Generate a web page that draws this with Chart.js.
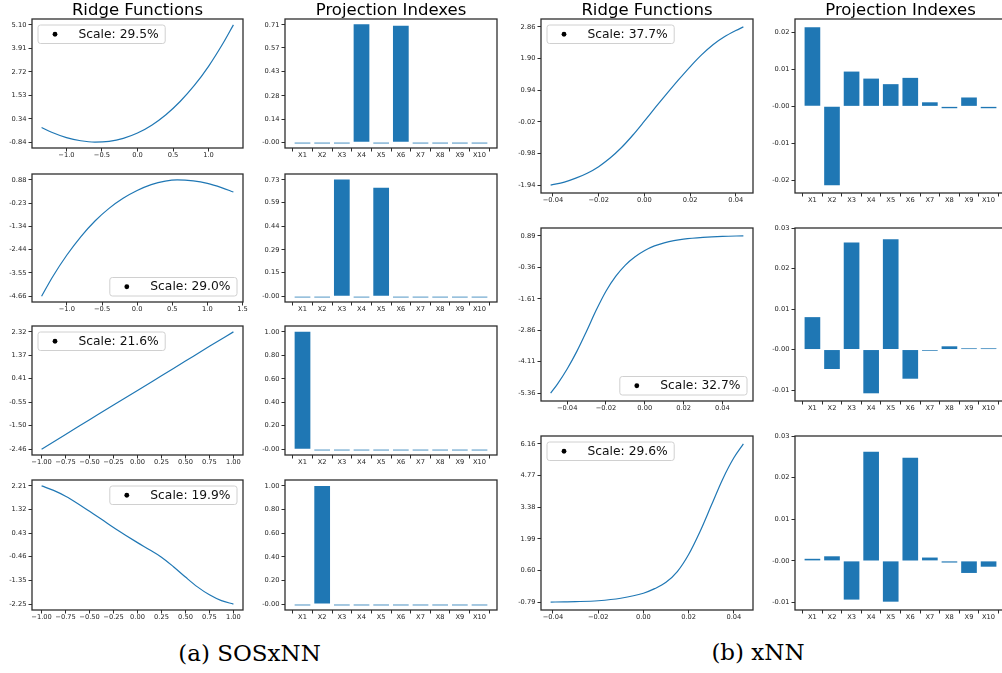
<!DOCTYPE html>
<html>
<head>
<meta charset="utf-8">
<script src="https://cdn.jsdelivr.net/npm/chart.js@4.4.1/dist/chart.umd.min.js"></script>
<style>
html, body { margin: 0; padding: 0; background: #fff; overflow: hidden; }
#fig { position: relative; width: 1002px; height: 673px; overflow: hidden; background: #fff; }
#fig canvas { position: absolute; }
.title { position: absolute; font-family: 'DejaVu Sans'; font-size: 16.5px; line-height: 16.5px; text-align: center; color: #000; white-space: nowrap; }
.cap { position: absolute; font-family: 'DejaVu Serif'; font-size: 23px; line-height: 23px; text-align: center; color: #000; white-space: nowrap; }
</style>
</head>
<body>
<div id="fig"></div>
<script>
// ---------- data ----------
const features = ['X1', 'X2', 'X3', 'X4', 'X5', 'X6', 'X7', 'X8', 'X9', 'X10'];

// (a) SOSxNN ridge functions
const sosX1 = [-1.35, -1.2, -1.0, -0.8, -0.6, -0.4, -0.2, 0, 0.2, 0.4, 0.6, 0.8, 1.0, 1.2, 1.35];
const sosY1 = [-0.10, -0.35, -0.61, -0.77, -0.84, -0.80, -0.65, -0.38, 0.02, 0.55, 1.22, 2.03, 3.00, 4.14, 5.10];
const sosX2 = [-1.36, -1.2, -1.0, -0.8, -0.6, -0.4, -0.2, 0, 0.2, 0.4, 0.57, 0.8, 1.0, 1.2, 1.37];
const sosY2 = [-4.66, -3.72, -2.70, -1.82, -1.08, -0.48, 0.00, 0.37, 0.65, 0.82, 0.88, 0.83, 0.71, 0.51, 0.30];
const sosX3 = [-1.0, -0.75, -0.5, -0.25, 0, 0.25, 0.5, 0.75, 1.0];
const sosY3 = [-2.46, -1.86, -1.26, -0.66, -0.07, 0.53, 1.13, 1.73, 2.32];
const sosX4 = [-1.0, -0.875, -0.75, -0.625, -0.5, -0.375, -0.25, -0.125, 0, 0.125, 0.25, 0.375, 0.5, 0.625, 0.75, 0.875, 1.0];
const sosY4 = [2.21, 2.04, 1.82, 1.55, 1.25, 0.95, 0.64, 0.35, 0.07, -0.20, -0.48, -0.84, -1.23, -1.60, -1.90, -2.12, -2.25];

// (b) xNN ridge functions
const xnnX1 = [-0.041, -0.035, -0.03, -0.025, -0.02, -0.015, -0.01, -0.005, 0, 0.005, 0.01, 0.015, 0.02, 0.025, 0.03, 0.035, 0.04, 0.0433];
const xnnY1 = [-1.94, -1.85, -1.73, -1.58, -1.38, -1.12, -0.80, -0.42, 0.00, 0.43, 0.85, 1.26, 1.65, 2.01, 2.32, 2.56, 2.75, 2.86];
const xnnX2 = [-0.0485, -0.045, -0.04, -0.035, -0.03, -0.025, -0.02, -0.015, -0.01, -0.005, 0, 0.005, 0.01, 0.015, 0.02, 0.03, 0.04, 0.0508];
const xnnY2 = [-5.36, -5.00, -4.40, -3.70, -2.90, -2.06, -1.31, -0.72, -0.27, 0.06, 0.31, 0.49, 0.61, 0.70, 0.76, 0.83, 0.87, 0.89];
const xnnX3 = [-0.041, -0.035, -0.03, -0.02, -0.01, 0, 0.005, 0.01, 0.015, 0.02, 0.025, 0.03, 0.035, 0.04, 0.0442];
const xnnY3 = [-0.79, -0.78, -0.77, -0.73, -0.62, -0.40, -0.20, 0.08, 0.55, 1.30, 2.30, 3.45, 4.60, 5.55, 6.16];

// projection indexes
const sosProj1 = [-0.008, -0.008, -0.008, 0.713, -0.008, 0.705, -0.008, -0.008, -0.008, -0.008];
const sosProj2 = [-0.008, -0.008, 0.732, -0.008, 0.680, -0.008, -0.008, -0.008, -0.008, -0.008];
const sosProj3 = [1.0, -0.011, -0.011, -0.011, -0.011, -0.011, -0.011, -0.011, -0.011, -0.011];
const sosProj4 = [-0.011, 1.0, -0.011, -0.011, -0.011, -0.011, -0.011, -0.011, -0.011, -0.011];
const xnnProj1 = [0.0214, -0.0213, 0.0094, 0.0075, 0.0060, 0.0077, 0.0011, -0.0005, 0.0024, -0.0005];
const xnnProj2 = [0.0080, -0.0048, 0.0264, -0.0108, 0.0272, -0.0072, -0.0003, 0.0008, 0.0003, 0.0003];
const xnnProj3 = [0.0005, 0.0011, -0.0093, 0.0262, -0.0098, 0.0248, 0.0008, -0.0004, -0.0029, -0.0014];

// legend texts
const sosScales = ['Scale: 29.5%', 'Scale: 29.0%', 'Scale: 21.6%', 'Scale: 19.9%'];
const xnnScales = ['Scale: 37.7%', 'Scale: 32.7%', 'Scale: 29.6%'];

// tick labels
const sosRidgeYTicks = [
  ['-0.84', '0.34', '1.53', '2.72', '3.91', '5.10'],
  ['-4.66', '-3.55', '-2.44', '-1.34', '-0.23', '0.88'],
  ['-2.46', '-1.50', '-0.55', '0.41', '1.37', '2.32'],
  ['-2.25', '-1.35', '-0.46', '0.43', '1.32', '2.21']
];
const xnnRidgeYTicks = [
  ['-1.94', '-0.98', '-0.02', '0.94', '1.90', '2.86'],
  ['-5.36', '-4.11', '-2.86', '-1.61', '-0.36', '0.89'],
  ['-0.79', '0.60', '1.99', '3.38', '4.77', '6.16']
];
const sosRidgeXTicks = [
  ['\u22121.0', '\u22120.5', '0.0', '0.5', '1.0'],
  ['\u22121.0', '\u22120.5', '0.0', '0.5', '1.0', '1.5'],
  ['\u22121.00', '\u22120.75', '\u22120.50', '\u22120.25', '0.00', '0.25', '0.50', '0.75', '1.00'],
  ['\u22121.00', '\u22120.75', '\u22120.50', '\u22120.25', '0.00', '0.25', '0.50', '0.75', '1.00']
];
const xnnRidgeXTicks = ['\u22120.04', '\u22120.02', '0.00', '0.02', '0.04'];
const sosProjYTicks = [
  ['-0.00', '0.14', '0.28', '0.43', '0.57', '0.71'],
  ['-0.00', '0.15', '0.29', '0.44', '0.59', '0.73'],
  ['-0.00', '0.20', '0.40', '0.60', '0.80', '1.00'],
  ['-0.00', '0.20', '0.40', '0.60', '0.80', '1.00']
];
const xnnProjYTicks = [
  ['-0.02', '-0.01', '-0.00', '0.01', '0.02'],
  ['-0.01', '-0.00', '0.01', '0.02', '0.03'],
  ['-0.01', '-0.00', '0.01', '0.02', '0.03']
];
const xnnProjYLim = [[-0.0234, 0.0236], [-0.0127, 0.03], [-0.0118, 0.03]];

// ---------- layout ----------
const fig = document.getElementById('fig');
const YW = 40, XH = 22, PT = 8, PR = 12;
const BLUE = '#1f77b4';
const TICKFONT = { family: 'DejaVu Sans', size: 6.7 };

const num = s => parseFloat(s.replace('\u2212', '-'));

function addCanvas(box) {
  const c = document.createElement('canvas');
  const w = box.r - box.l + YW + PR;
  const h = box.b - box.t + PT + XH;
  c.width = w; c.height = h;
  c.style.left = (box.l - YW) + 'px';
  c.style.top = (box.t - PT) + 'px';
  c.style.width = w + 'px';
  c.style.height = h + 'px';
  fig.appendChild(c);
  return c;
}

function addText(cls, text, cx, top, w) {
  const d = document.createElement('div');
  d.className = cls;
  d.textContent = text;
  d.style.left = (cx - w / 2) + 'px';
  d.style.top = top + 'px';
  d.style.width = w + 'px';
  fig.appendChild(d);
}

// axes frame (all four spines)
const spines = {
  id: 'spines',
  afterDraw(chart) {
    const a = chart.chartArea, ctx = chart.ctx;
    ctx.save();
    ctx.strokeStyle = '#2e2e2e';
    ctx.lineWidth = 1.3;
    ctx.strokeRect(a.left, a.top, a.right - a.left, a.bottom - a.top);
    ctx.restore();
  }
};

// matplotlib-like legend box inside the axes
const scaleBox = {
  id: 'scaleBox',
  afterDatasetsDraw(chart, args, opts) {
    if (!opts || !opts.text) return;
    const a = chart.chartArea, ctx = chart.ctx;
    ctx.save();
    ctx.font = '12.3px "DejaVu Sans"';
    const tw = ctx.measureText(opts.text).width;
    const bw = 40.5 + tw + 6.5, bh = 18.5, m = 6;
    const x = opts.loc.includes('right') ? a.right - m - bw : a.left + m;
    const y = opts.loc.includes('lower') ? a.bottom - m - bh : a.top + m;
    ctx.beginPath();
    ctx.roundRect(x, y, bw, bh, 2.5);
    ctx.fillStyle = 'rgba(255,255,255,0.8)';
    ctx.fill();
    ctx.strokeStyle = '#d0d0d0';
    ctx.lineWidth = 1;
    ctx.stroke();
    ctx.beginPath();
    ctx.arc(x + 17, y + bh / 2, 2.4, 0, Math.PI * 2);
    ctx.fillStyle = '#000';
    ctx.fill();
    ctx.fillStyle = '#111';
    ctx.textBaseline = 'middle';
    ctx.fillText(opts.text, x + 40.5, y + bh / 2 + 0.5);
    ctx.restore();
  }
};

function axisCommon() {
  return {
    grid: { display: true, drawOnChartArea: false, drawTicks: true, tickLength: 3.5, tickColor: '#2e2e2e', tickWidth: 1 },
    border: { display: false },
  };
}

function yAxis(labels, min, max) {
  return Object.assign(axisCommon(), {
    type: 'linear', min: min, max: max,
    afterFit: s => { s.width = YW; },
    afterBuildTicks: s => { s.ticks = labels.map(l => ({ value: num(l) })); },
    ticks: { font: TICKFONT, color: '#222', padding: 2, autoSkip: false, callback: (v, i) => labels[i] }
  });
}

function xAxis(values, labels, min, max) {
  return Object.assign(axisCommon(), {
    type: 'linear', min: min, max: max, offset: false,
    afterFit: s => { s.height = XH; },
    afterBuildTicks: s => { s.ticks = values.map(v => ({ value: v })); },
    ticks: { font: TICKFONT, color: '#222', padding: 0, autoSkip: false, maxRotation: 0, minRotation: 0, callback: (v, i) => labels[i] }
  });
}

function baseOptions(scales, legend) {
  return {
    responsive: false,
    animation: false,
    events: [],
    layout: { padding: { top: PT, right: PR, left: 0, bottom: 0 } },
    scales: scales,
    plugins: {
      legend: { display: false },
      tooltip: { enabled: false },
      scaleBox: legend || {}
    }
  };
}

function ridgeChart(box, xs, ys, yTicks, xTicks, legendText, loc) {
  const lo = Math.min(...xs), hi = Math.max(...xs), mx = 0.05 * (hi - lo);
  const y0 = num(yTicks[0]), y1 = num(yTicks[yTicks.length - 1]), my = 0.05 * (y1 - y0);
  new Chart(addCanvas(box), {
    type: 'line',
    data: {
      datasets: [{
        data: xs.map((x, i) => ({ x: x, y: ys[i] })),
        borderColor: BLUE,
        borderWidth: 1.2,
        pointRadius: 0,
        fill: false,
        cubicInterpolationMode: 'monotone'
      }]
    },
    options: baseOptions({
      x: xAxis(xTicks.map(num), xTicks, lo - mx, hi + mx),
      y: yAxis(yTicks, y0 - my, y1 + my)
    }, { text: legendText, loc: loc }),
    plugins: [spines, scaleBox]
  });
}

function projChart(box, vals, yTicks, yLim) {
  const idx = features.map((f, i) => i);
  new Chart(addCanvas(box), {
    type: 'bar',
    data: {
      datasets: [{
        data: vals.map((v, i) => ({ x: i, y: v })),
        backgroundColor: BLUE,
        borderWidth: 0,
        barPercentage: 0.8,
        categoryPercentage: 1.0
      }]
    },
    options: baseOptions({
      x: xAxis(idx, features, -0.89, features.length - 1 + 0.89),
      y: yAxis(yTicks, yLim[0], yLim[1])
    }),
    plugins: [spines, scaleBox]
  });
}

// panel rectangles (plot areas, in page pixels)
const sosRows = [[19, 148], [174, 302], [326, 455], [480, 610]];
const xnnRows = [[19, 193], [228, 401], [436, 610]];
const sosRidgeLR = [32, 243], sosProjLR = [285, 497];
const xnnRidgeLR = [541, 753], xnnProjLR = [795, 1006];
const sosLoc = ['upper left', 'lower right', 'upper left', 'upper right'];
const xnnLoc = ['upper left', 'lower right', 'upper left'];

const sosXs = [sosX1, sosX2, sosX3, sosX4], sosYs = [sosY1, sosY2, sosY3, sosY4];
const sosProj = [sosProj1, sosProj2, sosProj3, sosProj4];
sosRows.forEach((r, i) => {
  ridgeChart({ l: sosRidgeLR[0], r: sosRidgeLR[1], t: r[0], b: r[1] }, sosXs[i], sosYs[i],
    sosRidgeYTicks[i], sosRidgeXTicks[i], sosScales[i], sosLoc[i]);
  const t = sosProjYTicks[i], p0 = num(t[0]), p1 = num(t[t.length - 1]), m = 0.05 * (p1 - p0);
  projChart({ l: sosProjLR[0], r: sosProjLR[1], t: r[0], b: r[1] }, sosProj[i], t, [p0 - m, p1 + m]);
});

const xnnXs = [xnnX1, xnnX2, xnnX3], xnnYs = [xnnY1, xnnY2, xnnY3];
const xnnProj = [xnnProj1, xnnProj2, xnnProj3];
xnnRows.forEach((r, i) => {
  ridgeChart({ l: xnnRidgeLR[0], r: xnnRidgeLR[1], t: r[0], b: r[1] }, xnnXs[i], xnnYs[i],
    xnnRidgeYTicks[i], xnnRidgeXTicks, xnnScales[i], xnnLoc[i]);
  projChart({ l: xnnProjLR[0], r: xnnProjLR[1], t: r[0], b: r[1] }, xnnProj[i], xnnProjYTicks[i], xnnProjYLim[i]);
});

// column titles and sub-captions
addText('title', 'Ridge Functions', (sosRidgeLR[0] + sosRidgeLR[1]) / 2, 2, 220);
addText('title', 'Projection Indexes', (sosProjLR[0] + sosProjLR[1]) / 2, 2, 220);
addText('title', 'Ridge Functions', (xnnRidgeLR[0] + xnnRidgeLR[1]) / 2, 2, 220);
addText('title', 'Projection Indexes', (xnnProjLR[0] + xnnProjLR[1]) / 2, 2, 220);
addText('cap', '(a) SOSxNN', 249.5, 642, 260);
addText('cap', '(b) xNN', 758, 641, 260);
</script>
</body>
</html>
